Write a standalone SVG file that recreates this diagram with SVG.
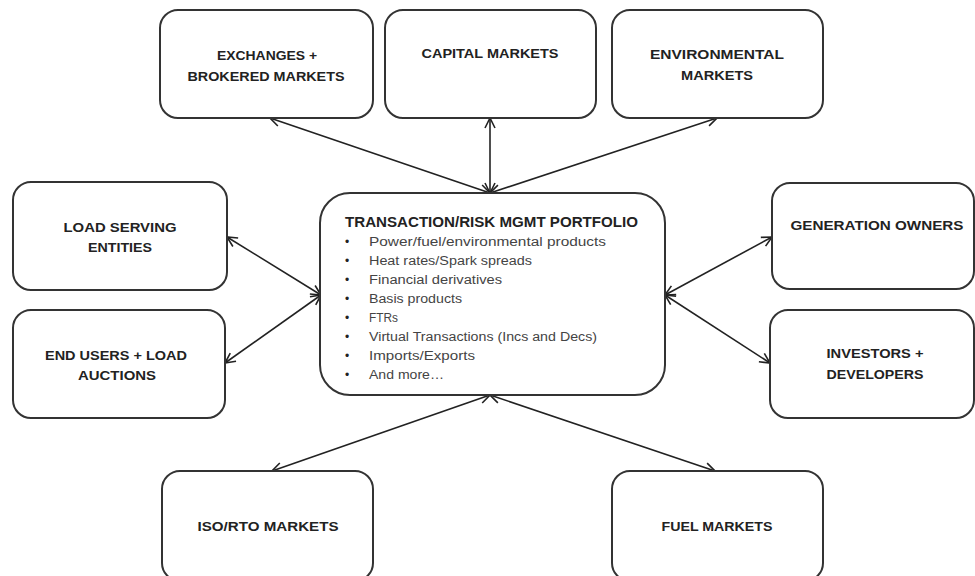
<svg xmlns="http://www.w3.org/2000/svg" width="975" height="576" viewBox="0 0 975 576">
<defs>
<style>
.box{fill:#fff;stroke:#333;stroke-width:2}
.lbl{font-family:"Liberation Sans",Arial,sans-serif;font-weight:bold;font-size:13.5px;fill:#222;text-anchor:middle}
.ttl{font-family:"Liberation Sans",Arial,sans-serif;font-weight:bold;font-size:14px;fill:#222}
.itm{font-family:"Liberation Sans",Arial,sans-serif;font-size:12.5px;fill:#444}
.bul{font-family:"Liberation Sans",Arial,sans-serif;font-size:12px;fill:#222}
.con{fill:none;stroke:#222;stroke-width:1.6;marker-start:url(#ah);marker-end:url(#ah)}
</style>
<marker id="ah" viewBox="0 0 12 12" refX="11" refY="6" markerWidth="12" markerHeight="12" markerUnits="userSpaceOnUse" orient="auto-start-reverse">
<path d="M1,1 L11,6 L1,11" fill="none" stroke="#222" stroke-width="1.6"/>
</marker>
</defs>
<rect width="975" height="576" fill="#fff"/>
<g id="connectors">
<line class="con" x1="490" y1="193" x2="270" y2="118"/>
<line class="con" x1="490" y1="193" x2="490" y2="118"/>
<line class="con" x1="490" y1="193" x2="717" y2="118"/>
<line class="con" x1="321" y1="295" x2="227" y2="237"/>
<line class="con" x1="321" y1="295" x2="225" y2="363"/>
<line class="con" x1="665" y1="295" x2="772" y2="237"/>
<line class="con" x1="665" y1="295" x2="770" y2="363"/>
<line class="con" x1="490" y1="395" x2="272" y2="471"/>
<line class="con" x1="490" y1="395" x2="715" y2="471"/>
</g>
<g id="exchanges">
<rect class="box" x="160" y="10" width="213" height="108" rx="18"/>
<text class="lbl" x="267" y="60" textLength="100" lengthAdjust="spacingAndGlyphs">EXCHANGES +</text>
<text class="lbl" x="266" y="81" textLength="157" lengthAdjust="spacingAndGlyphs">BROKERED MARKETS</text>
</g>
<g id="capital">
<rect class="box" x="385" y="10" width="211" height="108" rx="18"/>
<text class="lbl" x="490" y="58" textLength="137" lengthAdjust="spacingAndGlyphs">CAPITAL MARKETS</text>
</g>
<g id="environmental">
<rect class="box" x="612" y="10" width="211" height="108" rx="18"/>
<text class="lbl" x="717" y="59" textLength="134" lengthAdjust="spacingAndGlyphs">ENVIRONMENTAL</text>
<text class="lbl" x="717" y="80" textLength="72" lengthAdjust="spacingAndGlyphs">MARKETS</text>
</g>
<g id="load-serving">
<rect class="box" x="13" y="182" width="214" height="108" rx="18"/>
<text class="lbl" x="120" y="232" textLength="113" lengthAdjust="spacingAndGlyphs">LOAD SERVING</text>
<text class="lbl" x="120" y="252" textLength="64" lengthAdjust="spacingAndGlyphs">ENTITIES</text>
</g>
<g id="end-users">
<rect class="box" x="13" y="310" width="212" height="108" rx="18"/>
<text class="lbl" x="116" y="360" textLength="142" lengthAdjust="spacingAndGlyphs">END USERS + LOAD</text>
<text class="lbl" x="117" y="380" textLength="78" lengthAdjust="spacingAndGlyphs">AUCTIONS</text>
</g>
<g id="portfolio">
<rect class="box" x="320" y="193" width="345" height="202" rx="30"/>
<text class="ttl" x="345" y="227" textLength="293" lengthAdjust="spacingAndGlyphs">TRANSACTION/RISK MGMT PORTFOLIO</text>
<text class="bul" x="345" y="246">•</text>
<text class="bul" x="345" y="265">•</text>
<text class="bul" x="345" y="284">•</text>
<text class="bul" x="345" y="303">•</text>
<text class="bul" x="345" y="322">•</text>
<text class="bul" x="345" y="341">•</text>
<text class="bul" x="345" y="360">•</text>
<text class="bul" x="345" y="379">•</text>
<text class="itm" x="369" y="246" textLength="237" lengthAdjust="spacingAndGlyphs">Power/fuel/environmental products</text>
<text class="itm" x="369" y="265" textLength="163" lengthAdjust="spacingAndGlyphs">Heat rates/Spark spreads</text>
<text class="itm" x="369" y="284" textLength="133" lengthAdjust="spacingAndGlyphs">Financial derivatives</text>
<text class="itm" x="369" y="303" textLength="93" lengthAdjust="spacingAndGlyphs">Basis products</text>
<text class="itm" x="369" y="322" textLength="29" lengthAdjust="spacingAndGlyphs">FTRs</text>
<text class="itm" x="369" y="341" textLength="228" lengthAdjust="spacingAndGlyphs">Virtual Transactions (Incs and Decs)</text>
<text class="itm" x="369" y="360" textLength="106" lengthAdjust="spacingAndGlyphs">Imports/Exports</text>
<text class="itm" x="369" y="379" textLength="75" lengthAdjust="spacingAndGlyphs">And more…</text>
</g>
<g id="generation-owners">
<rect class="box" x="772" y="183" width="202" height="106" rx="18"/>
<text class="lbl" x="877" y="230" textLength="173" lengthAdjust="spacingAndGlyphs">GENERATION OWNERS</text>
</g>
<g id="investors">
<rect class="box" x="770" y="310" width="204" height="108" rx="18"/>
<text class="lbl" x="875" y="358" textLength="97" lengthAdjust="spacingAndGlyphs">INVESTORS +</text>
<text class="lbl" x="875" y="379" textLength="97" lengthAdjust="spacingAndGlyphs">DEVELOPERS</text>
</g>
<g id="iso-rto">
<rect class="box" x="162" y="471" width="211" height="110" rx="18"/>
<text class="lbl" x="268" y="531" textLength="141" lengthAdjust="spacingAndGlyphs">ISO/RTO MARKETS</text>
</g>
<g id="fuel">
<rect class="box" x="612" y="471" width="211" height="110" rx="18"/>
<text class="lbl" x="717" y="531" textLength="111" lengthAdjust="spacingAndGlyphs">FUEL MARKETS</text>
</g>
</svg>
